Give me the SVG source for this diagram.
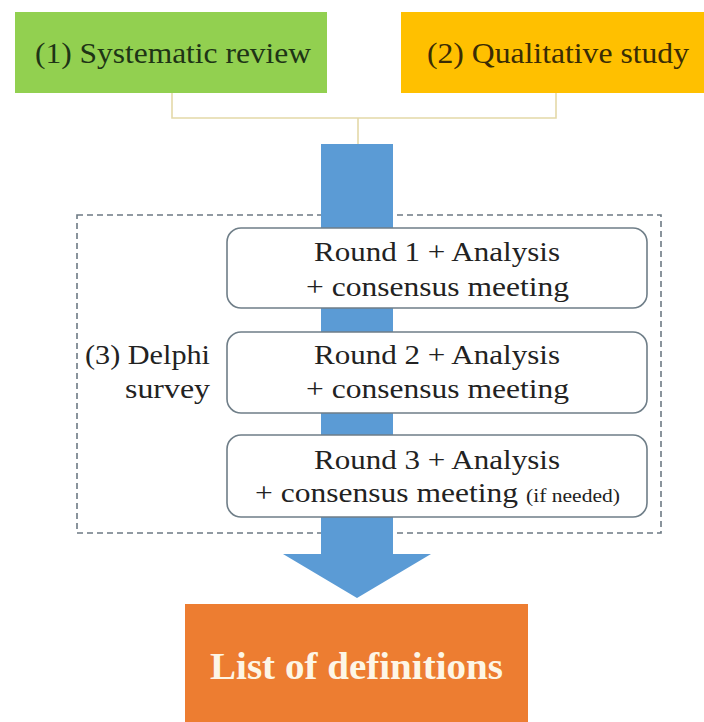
<svg xmlns="http://www.w3.org/2000/svg" width="704" height="722" viewBox="0 0 704 722">
  <style>
    text { font-family: 'Liberation Serif', Tinos, 'Times New Roman', Times, serif; }
    .top { font-size: 29px; }
    .rnd { font-size: 28px; fill: #222222; }
    .small { font-size: 19px; }
    .rbox { fill: #ffffff; stroke: #6f7e88; stroke-width: 1.6; }
    .conn { fill: none; stroke: #e4d9a8; stroke-width: 1.6; }
  </style>
  <rect width="704" height="722" fill="#ffffff"/>

  <g id="systematic-review">
    <rect x="15" y="12" width="312" height="81" fill="#92d050"/>
    <text class="top" x="35" y="63" textLength="276" lengthAdjust="spacingAndGlyphs" fill="#1e3416">(1) Systematic review</text>
  </g>

  <g id="qualitative-study">
    <rect x="401" y="12" width="303" height="81" fill="#ffc000"/>
    <text class="top" x="427" y="63" textLength="262" lengthAdjust="spacingAndGlyphs" fill="#3a2c05">(2) Qualitative study</text>
  </g>

  <g id="connectors">
    <path class="conn" d="M172 93 V118 H556 V93 M358 118 V144"/>
  </g>

  <g id="delphi-survey">
    <rect x="77" y="215" width="584" height="318" fill="none" stroke="#6d7a84" stroke-width="1.6" stroke-dasharray="6 4"/>
    <text font-size="27" fill="#222222" x="85" y="364" textLength="125" lengthAdjust="spacingAndGlyphs">(3) Delphi</text>
    <text font-size="27" fill="#222222" x="125" y="398" textLength="85" lengthAdjust="spacingAndGlyphs">survey</text>
  </g>

  <g id="flow-arrow">
    <path d="M321 144 H393 V554 H431 L357 598 L283 554 H321 Z" fill="#5b9bd5"/>
  </g>

  <g id="round-1">
    <rect class="rbox" x="227" y="228" width="420" height="80" rx="14"/>
    <text class="rnd" x="314" y="261" textLength="246" lengthAdjust="spacingAndGlyphs">Round 1 + Analysis</text>
    <text class="rnd" x="306" y="296" textLength="263" lengthAdjust="spacingAndGlyphs">+ consensus meeting</text>
  </g>

  <g id="round-2">
    <rect class="rbox" x="227" y="332" width="420" height="81" rx="14"/>
    <text class="rnd" x="314" y="364" textLength="246" lengthAdjust="spacingAndGlyphs">Round 2 + Analysis</text>
    <text class="rnd" x="306" y="398" textLength="263" lengthAdjust="spacingAndGlyphs">+ consensus meeting</text>
  </g>

  <g id="round-3">
    <rect class="rbox" x="227" y="435" width="420" height="82" rx="14"/>
    <text class="rnd" x="314" y="469" textLength="246" lengthAdjust="spacingAndGlyphs">Round 3 + Analysis</text>
    <text class="rnd" x="255" y="502" textLength="263" lengthAdjust="spacingAndGlyphs">+ consensus meeting</text>
    <text class="rnd small" x="526" y="502" textLength="94" lengthAdjust="spacingAndGlyphs">(if needed)</text>
  </g>

  <g id="list-of-definitions">
    <rect x="185" y="604" width="343" height="118" fill="#ed7d31"/>
    <text font-size="37" font-weight="bold" fill="#fdf6e6" x="210" y="679" textLength="293" lengthAdjust="spacingAndGlyphs">List of definitions</text>
  </g>
</svg>
